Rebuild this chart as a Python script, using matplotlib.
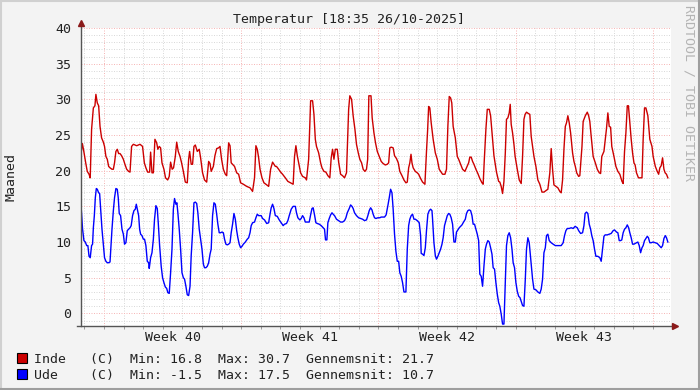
import matplotlib
matplotlib.use('Agg')
import matplotlib.pyplot as plt
from matplotlib.lines import Line2D
from matplotlib.patches import Rectangle

# time in days since Sunday 28/09-2025 00:00, temperature in degC
inde_day = [
    -1.19, -1.10, -1.02, -0.93, -0.85, -0.76, -0.70, -0.63, -0.54, -0.46,
    -0.41, -0.34, -0.27, -0.20, -0.12, -0.03, 0.03, 0.10, 0.17, 0.24,
    0.31, 0.41, 0.48, 0.54, 0.61, 0.68, 0.75, 0.82, 0.90, 0.99,
    1.07, 1.16, 1.26, 1.33, 1.41, 1.50, 1.67, 1.84, 1.97, 2.06,
    2.14, 2.23, 2.33, 2.38, 2.45, 2.52, 2.60, 2.69, 2.75, 2.82,
    2.89, 2.96, 3.06, 3.14, 3.25, 3.33, 3.40, 3.48, 3.55, 3.64,
    3.71, 3.79, 3.88, 3.96, 4.05, 4.15, 4.25, 4.32, 4.37, 4.45,
    4.52, 4.59, 4.66, 4.76, 4.86, 4.93, 5.03, 5.13, 5.24, 5.34,
    5.41, 5.47, 5.58, 5.66, 5.75, 5.85, 5.92, 6.00, 6.09, 6.19,
    6.26, 6.36, 6.43, 6.49, 6.56, 6.66, 6.77, 6.87, 6.97, 7.11,
    7.28, 7.45, 7.58, 7.68, 7.75, 7.82, 7.89, 7.96, 8.06, 8.16,
    8.26, 8.40, 8.50, 8.60, 8.67, 8.74, 8.80, 8.91, 9.01, 9.11,
    9.25, 9.38, 9.52, 9.65, 9.72, 9.79, 9.86, 9.93, 10.03, 10.13,
    10.27, 10.33, 10.44, 10.54, 10.64, 10.71, 10.78, 10.84, 10.95, 11.05,
    11.12, 11.22, 11.32, 11.42, 11.52, 11.59, 11.66, 11.73, 11.80, 11.90,
    11.97, 12.07, 12.17, 12.27, 12.37, 12.48, 12.54, 12.63, 12.71, 12.80,
    12.88, 12.97, 13.05, 13.14, 13.22, 13.31, 13.39, 13.45, 13.51, 13.62,
    13.68, 13.77, 13.85, 13.94, 14.04, 14.14, 14.24, 14.35, 14.45, 14.52,
    14.58, 14.65, 14.75, 14.82, 14.92, 15.01, 15.09, 15.20, 15.30, 15.40,
    15.47, 15.54, 15.60, 15.66, 15.71, 15.77, 15.88, 15.98, 16.05, 16.15,
    16.25, 16.37, 16.45, 16.51, 16.56, 16.62, 16.69, 16.79, 16.90, 17.00,
    17.10, 17.17, 17.27, 17.39, 17.47, 17.54, 17.61, 17.68, 17.74, 17.81,
    17.92, 18.02, 18.09, 18.19, 18.29, 18.41, 18.49, 18.60, 18.66, 18.73,
    18.80, 18.87, 18.97, 19.07, 19.17, 19.28, 19.34, 19.40, 19.48, 19.55,
    19.65, 19.72, 19.82, 19.89, 19.96, 20.02, 20.13, 20.19, 20.26, 20.33,
    20.40, 20.47, 20.53, 20.60, 20.67, 20.72, 20.77, 20.84, 20.91, 20.97,
    21.08, 21.18, 21.28, 21.35, 21.42, 21.48, 21.55, 21.65, 21.72, 21.79,
    21.86, 21.93, 22.03, 22.13, 22.23, 22.34, 22.44, 22.54, 22.64, 22.74,
    22.81, 22.88, 22.95, 23.05, 23.15, 23.25, 23.32, 23.39, 23.46, 23.53,
    23.59, 23.66, 23.73, 23.80, 23.90, 23.97, 24.04, 24.11, 24.21, 24.27,
    24.38, 24.44, 24.55, 24.65, 24.72, 24.78, 24.85, 24.95, 25.06, 25.16,
    25.26, 25.33, 25.39, 25.50, 25.63, 25.70, 25.77, 25.84, 25.90, 26.01,
    26.11, 26.21, 26.31, 26.42, 26.48, 26.55, 26.62, 26.69, 26.75, 26.82,
    26.89, 26.96, 27.03, 27.09, 27.16, 27.26, 27.33, 27.44, 27.50, 27.57,
    27.64, 27.74, 27.84, 27.95, 28.01, 28.12, 28.22, 28.29, 28.35, 28.42,
    28.49, 28.56, 28.62, 28.69, 28.76,
]
inde_temp = [
    22.0, 23.8, 22.6, 21.1, 19.9, 19.5, 19.0, 25.8, 28.8, 29.1,
    30.7, 29.5, 29.1, 26.2, 24.6, 24.0, 23.4, 22.0, 21.6, 20.6,
    20.4, 20.2, 20.2, 21.1, 22.7, 23.0, 22.4, 22.4, 22.1, 21.6,
    20.9, 20.2, 19.9, 19.8, 23.4, 23.7, 23.5, 23.7, 23.4, 21.1,
    20.4, 19.8, 19.8, 22.6, 19.7, 19.7, 24.4, 23.9, 23.0, 23.4,
    23.2, 21.1, 20.2, 19.0, 18.7, 19.2, 21.2, 20.2, 20.4, 22.0,
    24.0, 22.7, 22.0, 21.1, 19.9, 18.4, 18.3, 21.6, 22.7, 20.9,
    20.9, 23.4, 23.6, 22.7, 23.0, 21.8, 19.7, 18.7, 18.4, 21.3,
    21.0, 19.9, 20.6, 22.1, 23.1, 23.2, 23.4, 21.6, 20.2, 19.5,
    19.3, 23.9, 23.5, 21.1, 20.9, 20.6, 19.7, 19.5, 18.3, 18.1,
    17.8, 17.6, 17.1, 19.0, 23.5, 23.0, 21.8, 20.2, 19.0, 18.3,
    18.1, 17.8, 20.2, 21.2, 20.9, 20.6, 20.6, 20.2, 19.8, 19.5,
    19.0, 18.5, 18.3, 18.1, 22.0, 23.5, 22.1, 21.1, 19.7, 19.2,
    19.0, 18.7, 21.6, 29.8, 29.8, 27.9, 24.4, 23.4, 22.5, 21.1,
    20.4, 19.9, 19.8, 19.3, 19.0, 21.8, 23.0, 21.6, 23.0, 23.0,
    21.2, 19.5, 19.3, 19.0, 19.7, 28.6, 30.5, 30.0, 27.7, 25.8,
    23.7, 22.5, 21.6, 21.1, 20.2, 19.9, 20.2, 21.6, 30.5, 30.5,
    27.4, 25.3, 23.9, 22.7, 22.0, 21.3, 21.0, 20.8, 20.9, 21.1,
    23.2, 23.3, 23.2, 22.1, 21.7, 21.1, 19.9, 19.3, 18.7, 18.3,
    18.4, 20.4, 21.1, 22.3, 21.1, 20.4, 19.9, 19.7, 19.5, 18.9,
    18.4, 18.1, 22.7, 25.8, 29.0, 28.8, 26.7, 24.4, 22.5, 21.6,
    20.2, 19.9, 19.5, 19.5, 20.2, 26.2, 30.4, 30.2, 29.5, 26.2,
    24.6, 22.0, 21.6, 20.9, 20.2, 19.9, 20.4, 21.1, 21.9, 21.9,
    21.3, 20.9, 20.2, 19.6, 18.9, 18.3, 18.1, 21.6, 25.8, 28.6,
    28.6, 27.7, 24.4, 22.1, 20.9, 19.8, 18.5, 18.4, 17.8, 16.8,
    18.5, 22.5, 27.2, 27.4, 28.1, 29.3, 26.5, 25.3, 23.7, 22.0,
    20.2, 18.7, 18.2, 22.0, 27.2, 27.9, 28.2, 28.0, 27.9, 24.8,
    23.4, 22.0, 20.6, 18.7, 18.1, 17.0, 17.0, 17.2, 17.4, 19.7,
    23.1, 20.2, 18.0, 17.8, 17.6, 17.1, 16.9, 18.7, 23.0, 26.2,
    26.7, 27.7, 26.7, 25.3, 22.5, 21.3, 20.6, 19.7, 19.2, 19.3,
    23.4, 26.9, 27.7, 28.2, 27.7, 26.9, 24.8, 22.0, 21.1, 20.2,
    19.7, 19.6, 22.0, 22.7, 25.9, 28.1, 26.2, 26.1, 23.4, 22.0,
    20.6, 19.9, 19.5, 18.5, 18.2, 22.7, 25.3, 29.1, 29.1, 26.8,
    24.4, 22.5, 21.1, 20.8, 19.7, 19.0, 19.0, 19.0, 24.4, 28.8,
    28.8, 27.7, 24.4, 23.4, 22.0, 20.6, 19.9, 19.5, 20.4, 20.7,
    21.8, 20.2, 19.7, 19.5, 19.0,
]

ude_day = [
    -1.16, -1.09, -1.02, -0.95, -0.88, -0.82, -0.76, -0.70, -0.63, -0.58,
    -0.54, -0.49, -0.44, -0.39, -0.34, -0.27, -0.22, -0.17, -0.10, -0.03,
    0.03, 0.10, 0.17, 0.24, 0.31, 0.36, 0.41, 0.48, 0.54, 0.61,
    0.68, 0.73, 0.78, 0.85, 0.92, 0.99, 1.05, 1.12, 1.19, 1.26,
    1.33, 1.39, 1.46, 1.53, 1.60, 1.65, 1.70, 1.77, 1.82, 1.87,
    1.94, 2.01, 2.07, 2.14, 2.21, 2.28, 2.31, 2.38, 2.45, 2.52,
    2.58, 2.65, 2.72, 2.77, 2.84, 2.92, 2.99, 3.06, 3.13, 3.20,
    3.26, 3.33, 3.40, 3.47, 3.54, 3.60, 3.67, 3.72, 3.77, 3.84,
    3.91, 3.98, 4.05, 4.11, 4.18, 4.25, 4.32, 4.39, 4.45, 4.52,
    4.59, 4.66, 4.73, 4.79, 4.86, 4.93, 5.00, 5.07, 5.13, 5.20,
    5.27, 5.34, 5.41, 5.47, 5.54, 5.61, 5.68, 5.75, 5.81, 5.88,
    5.95, 6.02, 6.09, 6.15, 6.22, 6.29, 6.36, 6.43, 6.49, 6.56,
    6.63, 6.70, 6.77, 6.83, 6.90, 6.97, 7.04, 7.11, 7.21, 7.31,
    7.38, 7.45, 7.51, 7.58, 7.68, 7.75, 7.82, 7.89, 7.96, 8.02,
    8.09, 8.19, 8.30, 8.40, 8.47, 8.53, 8.60, 8.67, 8.74, 8.84,
    8.94, 9.04, 9.14, 9.21, 9.31, 9.38, 9.45, 9.55, 9.65, 9.76,
    9.82, 9.89, 9.99, 10.06, 10.13, 10.20, 10.27, 10.37, 10.47, 10.54,
    10.61, 10.67, 10.74, 10.81, 10.88, 10.98, 11.08, 11.18, 11.25, 11.30,
    11.37, 11.42, 11.49, 11.56, 11.63, 11.69, 11.76, 11.86, 11.97, 12.07,
    12.17, 12.27, 12.34, 12.41, 12.51, 12.58, 12.65, 12.71, 12.78, 12.88,
    12.99, 13.09, 13.19, 13.29, 13.39, 13.46, 13.53, 13.60, 13.67, 13.73,
    13.80, 13.87, 13.97, 14.07, 14.14, 14.31, 14.39, 14.48, 14.55, 14.62,
    14.69, 14.75, 14.82, 14.89, 14.96, 15.03, 15.09, 15.16, 15.23, 15.30,
    15.40, 15.47, 15.54, 15.60, 15.67, 15.74, 15.81, 15.88, 15.98, 16.08,
    16.15, 16.18, 16.25, 16.32, 16.39, 16.45, 16.52, 16.59, 16.66, 16.73,
    16.76, 16.83, 16.90, 16.96, 17.03, 17.10, 17.17, 17.24, 17.30, 17.37,
    17.44, 17.51, 17.58, 17.64, 17.71, 17.78, 17.85, 17.92, 17.98, 18.05,
    18.12, 18.19, 18.26, 18.32, 18.43, 18.49, 18.56, 18.63, 18.70, 18.77,
    18.83, 18.90, 18.97, 19.04, 19.11, 19.17, 19.24, 19.31, 19.38, 19.45,
    19.51, 19.58, 19.65, 19.72, 19.79, 19.85, 19.92, 19.99, 20.06, 20.13,
    20.19, 20.26, 20.33, 20.40, 20.47, 20.53, 20.60, 20.67, 20.74, 20.81,
    20.87, 20.94, 21.01, 21.08, 21.15, 21.22, 21.28, 21.35, 21.42, 21.49,
    21.55, 21.62, 21.69, 21.79, 21.86, 21.93, 22.03, 22.13, 22.23, 22.30,
    22.37, 22.44, 22.51, 22.57, 22.64, 22.71, 22.81, 22.91, 23.02, 23.12,
    23.22, 23.32, 23.42, 23.49, 23.56, 23.63, 23.73, 23.83, 23.93, 24.03,
    24.14, 24.21, 24.31, 24.41, 24.48, 24.54, 24.61, 24.68, 24.75, 24.82,
    24.88, 24.95, 25.02, 25.09, 25.19, 25.29, 25.36, 25.43, 25.50, 25.56,
    25.67, 25.77, 25.87, 25.97, 26.04, 26.14, 26.21, 26.28, 26.35, 26.41,
    26.48, 26.55, 26.62, 26.69, 26.76, 26.82, 26.89, 26.96, 27.03, 27.09,
    27.16, 27.23, 27.30, 27.37, 27.44, 27.50, 27.57, 27.64, 27.71, 27.77,
    27.84, 27.91, 28.01, 28.11, 28.22, 28.32, 28.42, 28.49, 28.56, 28.63,
    28.69, 28.76,
]
ude_temp = [
    14.8, 11.8, 10.2, 10.0, 9.5, 9.5, 8.0, 7.8, 9.5, 9.7,
    12.0, 13.7, 16.2, 17.5, 17.4, 16.9, 16.8, 14.7, 11.8, 9.7,
    7.8, 7.3, 7.1, 7.1, 7.2, 9.5, 11.8, 14.4, 16.2, 17.5,
    17.4, 16.2, 14.0, 13.7, 11.8, 11.1, 9.7, 9.9, 11.6, 11.8,
    12.0, 12.3, 13.7, 14.4, 14.6, 15.3, 14.6, 13.7, 11.8, 11.1,
    10.9, 10.4, 10.4, 9.5, 7.3, 7.1, 6.3, 7.8, 8.5, 10.4,
    13.2, 15.1, 14.7, 12.7, 9.5, 6.6, 5.0, 4.3, 3.7, 3.5,
    2.9, 2.8, 5.7, 9.0, 14.6, 16.1, 15.3, 15.5, 14.1, 11.8,
    9.0, 5.7, 5.0, 4.8, 3.8, 2.6, 2.5, 3.8, 8.1, 11.3,
    15.5, 15.6, 15.4, 14.1, 11.8, 10.4, 9.0, 6.9, 6.4, 6.4,
    6.6, 7.1, 8.3, 9.0, 13.7, 15.5, 15.3, 13.9, 12.5, 11.3,
    11.3, 11.4, 11.3, 10.4, 9.7, 9.6, 9.7, 9.9, 11.3, 12.5,
    14.0, 13.2, 11.6, 10.6, 9.7, 9.2, 9.4, 9.7, 10.0, 10.4,
    10.6, 11.3, 12.3, 12.7, 12.8, 13.4, 13.9, 13.7, 13.7, 13.7,
    13.3, 13.1, 12.6, 12.7, 13.9, 14.8, 15.3, 14.7, 13.7, 13.6,
    13.1, 12.7, 12.3, 12.5, 12.6, 13.0, 13.7, 14.6, 15.0, 15.0,
    14.1, 13.4, 13.1, 13.3, 13.7, 13.4, 12.8, 12.8, 12.8, 13.8,
    14.7, 14.8, 13.8, 12.7, 12.6, 12.5, 12.3, 12.0, 11.8, 10.3,
    10.3, 12.7, 13.3, 13.8, 14.1, 13.9, 13.7, 13.2, 13.0, 12.8,
    12.8, 13.0, 13.4, 14.1, 14.7, 15.2, 15.0, 14.7, 14.1, 13.7,
    13.4, 13.3, 13.2, 13.0, 13.1, 13.7, 14.4, 14.8, 14.5, 13.9,
    13.4, 13.3, 13.4, 13.4, 13.5, 13.5, 13.8, 15.1, 16.2, 17.4,
    16.9, 14.6, 11.1, 8.7, 7.3, 7.3, 5.7, 5.2, 4.3, 3.0,
    3.0, 9.0, 12.3, 13.2, 13.7, 13.9, 13.2, 13.2, 13.0, 12.7,
    10.9, 8.4, 8.3, 8.1, 9.2, 11.6, 13.9, 14.4, 14.6, 14.4,
    13.2, 9.9, 8.1, 7.6, 8.0, 8.5, 9.0, 9.7, 10.6, 12.3,
    13.0, 13.7, 14.0, 13.9, 13.4, 12.5, 10.0, 10.0, 11.4, 11.7,
    12.0, 12.2, 12.4, 12.7, 13.2, 14.0, 14.4, 14.5, 14.4, 13.7,
    12.5, 12.5, 11.8, 11.1, 10.2, 5.5, 5.2, 3.8, 6.6, 9.0,
    9.7, 10.2, 10.0, 9.2, 8.3, 6.4, 6.2, 4.3, 2.7, 1.5,
    1.0, -0.1, -1.5, -1.5, 4.3, 9.5, 10.9, 11.3, 10.6, 9.0,
    7.1, 6.4, 4.3, 3.1, 2.4, 2.2, 1.7, 1.1, 1.0, 4.8,
    9.0, 10.6, 9.9, 6.9, 4.8, 3.4, 3.3, 3.0, 2.8, 3.4,
    4.8, 8.5, 9.2, 10.9, 11.1, 10.2, 9.9, 9.7, 9.5, 9.5,
    9.5, 9.5, 9.9, 10.9, 11.6, 11.9, 11.9, 12.0, 11.9, 12.2,
    12.0, 11.6, 11.2, 11.3, 12.3, 14.0, 14.2, 14.0, 12.5, 11.8,
    10.9, 10.2, 9.0, 8.0, 8.0, 7.8, 7.3, 9.0, 10.8, 11.0,
    11.0, 11.1, 11.2, 11.6, 11.7, 11.4, 11.3, 10.2, 10.2, 10.3,
    11.3, 11.8, 12.0, 12.4, 12.0, 11.3, 10.6, 9.7, 9.7, 9.8,
    9.9, 10.0, 9.5, 8.5, 9.2, 9.5, 10.2, 10.5, 10.8, 10.6,
    9.9, 9.9, 10.0, 9.9, 9.8, 9.5, 9.2, 9.5, 10.5, 10.9,
    10.6, 10.0,
]

week_pos = [3.5, 10.5, 17.5, 24.5]
week_labels = ['Week 40', 'Week 41', 'Week 42', 'Week 43']

series_names = ['Inde', 'Ude']
series_colors = ['#CC0000', '#0000FF']
series_min = [16.8, -1.5]
series_max = [30.7, 17.5]
series_avg = [21.7, 10.7]

plt.rcParams['font.family'] = 'DejaVu Sans Mono'
plt.rcParams['font.size'] = 9.5

W, H = 700, 390
fig = plt.figure(figsize=(W / 100, H / 100), dpi=100, facecolor='#F3F3F3')
ax = fig.add_axes([81 / W, 64 / H, 590 / W, 298 / H])
ax.set_facecolor('white')
ax.set_xlim(-1.17, 28.92)
ax.set_ylim(-1.77, 40)

# grid: minor every day / every degree, major every week / 5 degrees
dots = (0, (1, 1.5))
for d in range(-1, 29):
    col = '#F6B8B8' if d % 7 == 0 else '#DADADA'
    ax.axvline(d, color=col, lw=0.72, ls=dots, zorder=1)
for v in range(-1, 41):
    col = '#F6B8B8' if v % 5 == 0 else '#DADADA'
    ax.axhline(v, color=col, lw=0.72, ls=dots, zorder=1)

ax.plot(inde_day, inde_temp, color=series_colors[0], lw=1.0, zorder=3)
ax.plot(ude_day, ude_temp, color=series_colors[1], lw=1.0, zorder=3)

for s in ax.spines.values():
    s.set_visible(False)

# axes with arrows
axis_col = '#555555'
ax.plot([0, 0], [0, 1.02], transform=ax.transAxes, color=axis_col, lw=1, clip_on=False, zorder=4)
ax.plot([-0.006, 1.007], [0, 0], transform=ax.transAxes, color=axis_col, lw=1, clip_on=False, zorder=4)
ax.plot([0], [1.016], transform=ax.transAxes, marker='^', ms=4.5, color='#8B1A1A', clip_on=False, zorder=5)
ax.plot([1.006], [0], transform=ax.transAxes, marker='>', ms=4.5, color='#8B1A1A', clip_on=False, zorder=5)

ax.set_yticks(range(0, 41, 5))
ax.tick_params(axis='y', length=0, pad=7.2, labelcolor='#222222')
ax.set_xticks(week_pos, week_labels)
ax.tick_params(axis='x', length=0, pad=3.5, labelcolor='#222222')
ax.set_xticks(range(-1, 29), minor=True)
ax.tick_params(axis='x', which='minor', length=2, width=0.7, color='#999999')

fig.text(349 / W, 1 - 19 / H, 'Temperatur [18:35 26/10-2025]', ha='center', va='center', color='#222222')
fig.text(11 / W, 1 - 177 / H, 'Maaned', rotation=90, ha='center', va='center', color='#222222')
fig.text(689 / W, 1 - 5 / H, 'RRDTOOL / TOBI OETIKER', rotation=270, ha='center', va='top', color='#B4B4B4')

# legend rows
rows = [363, 379]
for i in range(2):
    y = 1 - rows[i] / H
    fig.add_artist(Rectangle((17 / W, y), 10 / W, 10 / H, transform=fig.transFigure,
                             facecolor=series_colors[i], edgecolor='black', lw=0.8))
    txt = f'{series_names[i]:<7}(C)  Min: {series_min[i]:4.1f}  Max: {series_max[i]:4.1f}  Gennemsnit: {series_avg[i]:.1f}'
    fig.text(34 / W, y + 0.5 / H, txt, va='baseline', ha='left', color='#222222')

# 3d-ish border
fig.add_artist(Line2D([0, 1], [1 - 1 / H, 1 - 1 / H], transform=fig.transFigure, color='#D0D0D0', lw=1.5))
fig.add_artist(Line2D([1 / W, 1 / W], [0, 1], transform=fig.transFigure, color='#D0D0D0', lw=1.5))
fig.add_artist(Line2D([0, 1], [1 / H, 1 / H], transform=fig.transFigure, color='#9E9E9E', lw=1.5))
fig.add_artist(Line2D([1 - 1 / W, 1 - 1 / W], [0, 1], transform=fig.transFigure, color='#9E9E9E', lw=1.5))

fig.savefig('out.png', dpi=100, facecolor=fig.get_facecolor())
